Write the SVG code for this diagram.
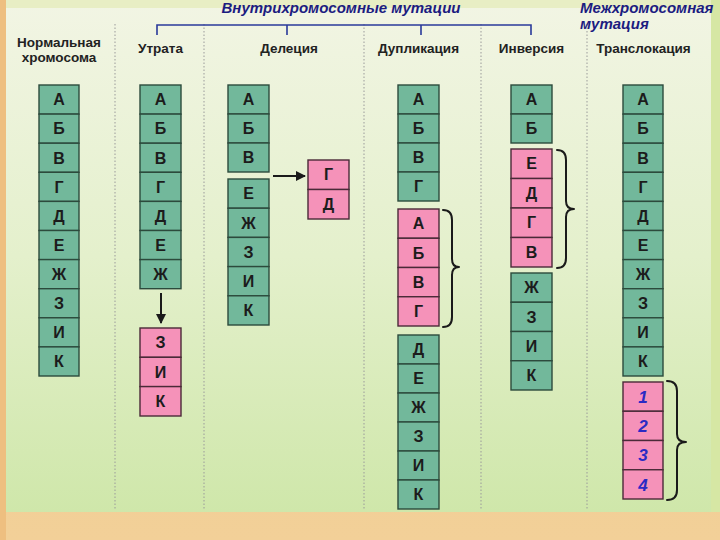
<svg xmlns="http://www.w3.org/2000/svg" width="720" height="540" viewBox="0 0 720 540">
<defs>
<linearGradient id="bg" x1="0" y1="0" x2="0" y2="1">
<stop offset="0" stop-color="#f2f5e4"/>
<stop offset="0.5" stop-color="#e4f0cc"/>
<stop offset="1" stop-color="#cfe7aa"/>
</linearGradient>
<linearGradient id="bot" x1="0" y1="0" x2="0" y2="1">
<stop offset="0" stop-color="#f0c98c"/>
<stop offset="1" stop-color="#f2d098"/>
</linearGradient>
<marker id="ah" viewBox="0 0 10 10" refX="9" refY="5" markerWidth="6" markerHeight="5" orient="auto" markerUnits="strokeWidth">
<path d="M0,0 L10,5 L0,10 z" fill="#1a1a1a"/>
</marker>
<style>
.g{fill:#72b89b;stroke:#2c4a3c;stroke-width:1.4}
.p{fill:#f592b9;stroke:#4a2a38;stroke-width:1.4}
.t{font-family:"Liberation Sans",Arial,sans-serif;font-weight:bold;font-size:16px;fill:#1c1c1c;text-anchor:middle}
.n{font-family:"Liberation Sans",Arial,sans-serif;font-weight:bold;font-style:italic;font-size:17px;fill:#2a2ac4;text-anchor:middle}
.h{font-family:"Liberation Sans",Arial,sans-serif;font-weight:bold;font-style:italic;font-size:15px;fill:#1c1c80}
.c{font-family:"Liberation Sans",Arial,sans-serif;font-weight:bold;font-size:13.5px;fill:#222;text-anchor:middle}
.sep{stroke:#9a9a9a;stroke-width:1;stroke-dasharray:1.5 2;fill:none}
.br{fill:none;stroke:#1a1a1a;stroke-width:2;stroke-linecap:round;stroke-linejoin:round}
.ar{stroke:#1a1a1a;stroke-width:2;fill:none}
</style>
</defs>
<rect x="0" y="0" width="720" height="540" fill="url(#bot)"/>
<rect x="0" y="0" width="720" height="512" fill="#d6e7a4"/>
<rect x="0" y="0" width="6" height="540" fill="#eebf80"/>
<rect x="6" y="0" width="705" height="512" fill="url(#bg)"/>
<rect x="6" y="0" width="705" height="8" fill="#e8eec4"/>

<g id="separators">
<line class="sep" x1="115" y1="24" x2="115" y2="510"/>
<line class="sep" x1="204" y1="24" x2="204" y2="510"/>
<line class="sep" x1="364" y1="24" x2="364" y2="510"/>
<line class="sep" x1="481" y1="24" x2="481" y2="510"/>
<line class="sep" x1="587" y1="24" x2="587" y2="510"/>
</g>

<g id="header">
<text class="h" x="341" y="13" text-anchor="middle">Внутрихромосомные мутации</text>
<path d="M157,35 V25 H531 V35 M287,25 V35 M421,25 V35" fill="none" stroke="#2a3a9a" stroke-width="1.6"/>
<text class="h" x="580" y="13">Межхромосомная</text>
<text class="h" x="580" y="29">мутация</text>
</g>

<g id="titles">
<text class="c" x="59" y="47">Нормальная</text>
<text class="c" x="59" y="62">хромосома</text>
<text class="c" x="160.5" y="53">Утрата</text>
<text class="c" x="289" y="53">Делеция</text>
<text class="c" x="418.5" y="53">Дупликация</text>
<text class="c" x="531.5" y="53">Инверсия</text>
<text class="c" x="643.5" y="53">Транслокация</text>
</g>

<g id="normal">
<rect class="g" x="39" y="85" width="40" height="29.1"/><text class="t" x="59" y="105.3">А</text>
<rect class="g" x="39" y="114.1" width="40" height="29.1"/><text class="t" x="59" y="134.4">Б</text>
<rect class="g" x="39" y="143.2" width="40" height="29.1"/><text class="t" x="59" y="163.5">В</text>
<rect class="g" x="39" y="172.3" width="40" height="29.1"/><text class="t" x="59" y="192.6">Г</text>
<rect class="g" x="39" y="201.4" width="40" height="29.1"/><text class="t" x="59" y="221.7">Д</text>
<rect class="g" x="39" y="230.5" width="40" height="29.1"/><text class="t" x="59" y="250.8">Е</text>
<rect class="g" x="39" y="259.6" width="40" height="29.1"/><text class="t" x="59" y="279.9">Ж</text>
<rect class="g" x="39" y="288.7" width="40" height="29.1"/><text class="t" x="59" y="309">З</text>
<rect class="g" x="39" y="317.8" width="40" height="29.1"/><text class="t" x="59" y="338.1">И</text>
<rect class="g" x="39" y="346.9" width="40" height="29.1"/><text class="t" x="59" y="367.2">К</text>
</g>

<g id="loss">
<rect class="g" x="140" y="85" width="41" height="29.1"/><text class="t" x="160.5" y="105.3">А</text>
<rect class="g" x="140" y="114.1" width="41" height="29.1"/><text class="t" x="160.5" y="134.4">Б</text>
<rect class="g" x="140" y="143.2" width="41" height="29.1"/><text class="t" x="160.5" y="163.5">В</text>
<rect class="g" x="140" y="172.3" width="41" height="29.1"/><text class="t" x="160.5" y="192.6">Г</text>
<rect class="g" x="140" y="201.4" width="41" height="29.1"/><text class="t" x="160.5" y="221.7">Д</text>
<rect class="g" x="140" y="230.5" width="41" height="29.1"/><text class="t" x="160.5" y="250.8">Е</text>
<rect class="g" x="140" y="259.6" width="41" height="29.1"/><text class="t" x="160.5" y="279.9">Ж</text>
</g>
<g id="loss-fragment">
<rect class="p" x="140" y="328" width="41" height="29.3"/><text class="t" x="160.5" y="348.3">З</text>
<rect class="p" x="140" y="357.3" width="41" height="29.3"/><text class="t" x="160.5" y="377.6">И</text>
<rect class="p" x="140" y="386.6" width="41" height="29.4"/><text class="t" x="160.5" y="406.9">К</text>
</g>

<g id="deletion">
<rect class="g" x="228" y="85" width="41" height="29"/><text class="t" x="248.5" y="105.3">А</text>
<rect class="g" x="228" y="114" width="41" height="29"/><text class="t" x="248.5" y="134.3">Б</text>
<rect class="g" x="228" y="143" width="41" height="29"/><text class="t" x="248.5" y="163.3">В</text>
<rect class="g" x="228" y="179" width="41" height="29.2"/><text class="t" x="248.5" y="199.3">Е</text>
<rect class="g" x="228" y="208.2" width="41" height="29.2"/><text class="t" x="248.5" y="228.5">Ж</text>
<rect class="g" x="228" y="237.4" width="41" height="29.2"/><text class="t" x="248.5" y="257.7">З</text>
<rect class="g" x="228" y="266.6" width="41" height="29.2"/><text class="t" x="248.5" y="286.9">И</text>
<rect class="g" x="228" y="295.8" width="41" height="29.2"/><text class="t" x="248.5" y="316.1">К</text>
</g>
<g id="deletion-fragment">
<rect class="p" x="308" y="160" width="41" height="29.5"/><text class="t" x="328.5" y="180.3">Г</text>
<rect class="p" x="308" y="189.5" width="41" height="29.5"/><text class="t" x="328.5" y="209.8">Д</text>
</g>

<g id="duplication">
<rect class="g" x="398" y="85" width="41" height="29"/><text class="t" x="418.5" y="105.3">А</text>
<rect class="g" x="398" y="114" width="41" height="29"/><text class="t" x="418.5" y="134.3">Б</text>
<rect class="g" x="398" y="143" width="41" height="29"/><text class="t" x="418.5" y="163.3">В</text>
<rect class="g" x="398" y="172" width="41" height="29"/><text class="t" x="418.5" y="192.3">Г</text>
<rect class="p" x="398" y="209" width="41" height="29.25"/><text class="t" x="418.5" y="229.3">А</text>
<rect class="p" x="398" y="238.25" width="41" height="29.25"/><text class="t" x="418.5" y="258.55">Б</text>
<rect class="p" x="398" y="267.5" width="41" height="29.25"/><text class="t" x="418.5" y="287.8">В</text>
<rect class="p" x="398" y="296.75" width="41" height="29.25"/><text class="t" x="418.5" y="317.05">Г</text>
<rect class="g" x="398" y="335" width="41" height="29"/><text class="t" x="418.5" y="355.3">Д</text>
<rect class="g" x="398" y="364" width="41" height="29"/><text class="t" x="418.5" y="384.3">Е</text>
<rect class="g" x="398" y="393" width="41" height="29"/><text class="t" x="418.5" y="413.3">Ж</text>
<rect class="g" x="398" y="422" width="41" height="29"/><text class="t" x="418.5" y="442.3">З</text>
<rect class="g" x="398" y="451" width="41" height="29"/><text class="t" x="418.5" y="471.3">И</text>
<rect class="g" x="398" y="480" width="41" height="29"/><text class="t" x="418.5" y="500.3">К</text>
</g>

<g id="inversion">
<rect class="g" x="511" y="85" width="41" height="29"/><text class="t" x="531.5" y="105.3">А</text>
<rect class="g" x="511" y="114" width="41" height="29"/><text class="t" x="531.5" y="134.3">Б</text>
<rect class="p" x="511" y="149" width="41" height="29.5"/><text class="t" x="531.5" y="169.3">Е</text>
<rect class="p" x="511" y="178.5" width="41" height="29.5"/><text class="t" x="531.5" y="198.8">Д</text>
<rect class="p" x="511" y="208" width="41" height="29.5"/><text class="t" x="531.5" y="228.3">Г</text>
<rect class="p" x="511" y="237.5" width="41" height="29.5"/><text class="t" x="531.5" y="257.8">В</text>
<rect class="g" x="511" y="273" width="41" height="29.25"/><text class="t" x="531.5" y="293.3">Ж</text>
<rect class="g" x="511" y="302.25" width="41" height="29.25"/><text class="t" x="531.5" y="322.55">З</text>
<rect class="g" x="511" y="331.5" width="41" height="29.25"/><text class="t" x="531.5" y="351.8">И</text>
<rect class="g" x="511" y="360.75" width="41" height="29.25"/><text class="t" x="531.5" y="381.05">К</text>
</g>

<g id="translocation">
<rect class="g" x="623" y="85" width="40" height="29.1"/><text class="t" x="643" y="105.3">А</text>
<rect class="g" x="623" y="114.1" width="40" height="29.1"/><text class="t" x="643" y="134.4">Б</text>
<rect class="g" x="623" y="143.2" width="40" height="29.1"/><text class="t" x="643" y="163.5">В</text>
<rect class="g" x="623" y="172.3" width="40" height="29.1"/><text class="t" x="643" y="192.6">Г</text>
<rect class="g" x="623" y="201.4" width="40" height="29.1"/><text class="t" x="643" y="221.7">Д</text>
<rect class="g" x="623" y="230.5" width="40" height="29.1"/><text class="t" x="643" y="250.8">Е</text>
<rect class="g" x="623" y="259.6" width="40" height="29.1"/><text class="t" x="643" y="279.9">Ж</text>
<rect class="g" x="623" y="288.7" width="40" height="29.1"/><text class="t" x="643" y="309">З</text>
<rect class="g" x="623" y="317.8" width="40" height="29.1"/><text class="t" x="643" y="338.1">И</text>
<rect class="g" x="623" y="346.9" width="40" height="29.1"/><text class="t" x="643" y="367.2">К</text>
</g>
<g id="translocation-fragment">
<rect class="p" x="623" y="382" width="40" height="29.25"/><text class="n" x="643" y="402.8">1</text>
<rect class="p" x="623" y="411.25" width="40" height="29.25"/><text class="n" x="643" y="432.05">2</text>
<rect class="p" x="623" y="440.5" width="40" height="29.25"/><text class="n" x="643" y="461.3">3</text>
<rect class="p" x="623" y="469.75" width="40" height="29.25"/><text class="n" x="643" y="490.55">4</text>
</g>

<g id="connectors">
<line class="ar" x1="161" y1="293" x2="161" y2="323" marker-end="url(#ah)"/>
<line class="ar" x1="273" y1="176" x2="305" y2="176" marker-end="url(#ah)"/>
<path class="br" d="M443,210 Q452,210 452,220 V259 Q452,267 459,267 Q452,267 452,275 V317 Q452,327 443,327"/>
<path class="br" d="M557,150 Q566,150 566,160 V201 Q566,209 574,209 Q566,209 566,217 V258 Q566,268 557,268"/>
<path class="br" d="M667,381 Q677,381 677,391 V434 Q677,442 686,442 Q677,442 677,450 V490 Q677,500 667,500"/>
</g>
</svg>
